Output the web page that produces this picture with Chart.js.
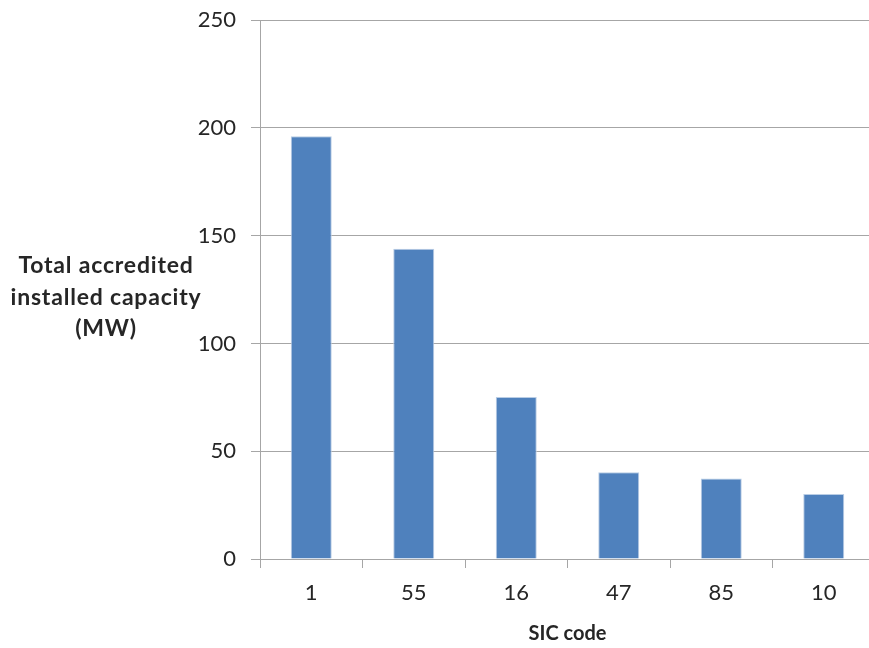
<!DOCTYPE html>
<html>
<head>
<meta charset="utf-8">
<script src="https://cdn.jsdelivr.net/npm/chart.js@4/dist/chart.umd.min.js"></script>
<style>
  html, body { margin: 0; padding: 0; background: #fff; overflow: hidden; width: 869px; height: 648px; }
  canvas { display: block; margin-top: -8px; }
</style>
</head>
<body>
<canvas id="c" width="876" height="656"></canvas>
<script>
const categories = ["1", "55", "16", "47", "85", "10"];
const capacityMW = [196.2, 144.0, 75.2, 40.2, 37.3, 30.2];
const yTicks = [0, 50, 100, 150, 200, 250];
const yTitleLines = ["Total accredited", "installed capacity", "(MW)"];
const xTitle = "SIC code";

const FONT = "Lato, 'Open Sans', 'Liberation Sans', sans-serif";
const GRID = "#A6A6A6";
const TEXT = "#262626";

const yTitlePlugin = {
  id: 'yTitle',
  afterDraw(chart) {
    const ctx = chart.ctx;
    ctx.save();
    ctx.font = "bold 23px " + FONT;
    try { ctx.letterSpacing = "0.8px"; } catch (e) {}
    ctx.fillStyle = TEXT;
    ctx.textAlign = "center";
    ctx.textBaseline = "middle";
    const cx = 106, y0 = 274, lh = 31.5;
    yTitleLines.forEach((t, i) => ctx.fillText(t, cx, y0 + i * lh));
    ctx.restore();
  }
};

new Chart(document.getElementById('c'), {
  type: 'bar',
  data: {
    labels: categories,
    datasets: [{
      data: capacityMW,
      backgroundColor: '#4F81BD',
      borderColor: '#B9CDE5',
      borderWidth: 1,
      barPercentage: 0.4,
      categoryPercentage: 1.0
    }]
  },
  options: {
    responsive: false,
    animation: false,
    layout: { padding: { top: 13, right: 1, left: 0, bottom: 0 } },
    plugins: { legend: { display: false }, tooltip: { enabled: false } },
    scales: {
      x: {
        offset: true,
        grid: { display: true, drawOnChartArea: false, drawTicks: true, tickLength: 9, color: GRID, offset: true },
        border: { display: true, color: GRID, width: 1 },
        ticks: { color: TEXT, font: { family: FONT, size: 22 }, padding: 12 },
        title: { display: true, text: xTitle, color: TEXT, font: { family: FONT, size: 20, weight: 'bold' }, padding: { top: 4, bottom: 2 } },
        afterFit(scale) { scale.height = 89; }
      },
      y: {
        min: 0, max: 250,
        afterBuildTicks(scale) { scale.ticks = yTicks.map(v => ({ value: v })); },
        grid: { color: GRID, tickLength: 9, drawTicks: true },
        border: { display: true, color: GRID, width: 1 },
        ticks: { color: TEXT, font: { family: FONT, size: 22 }, padding: 15 },
        afterFit(scale) { scale.width = 260; }
      }
    }
  },
  plugins: [yTitlePlugin]
});
</script>
</body>
</html>
